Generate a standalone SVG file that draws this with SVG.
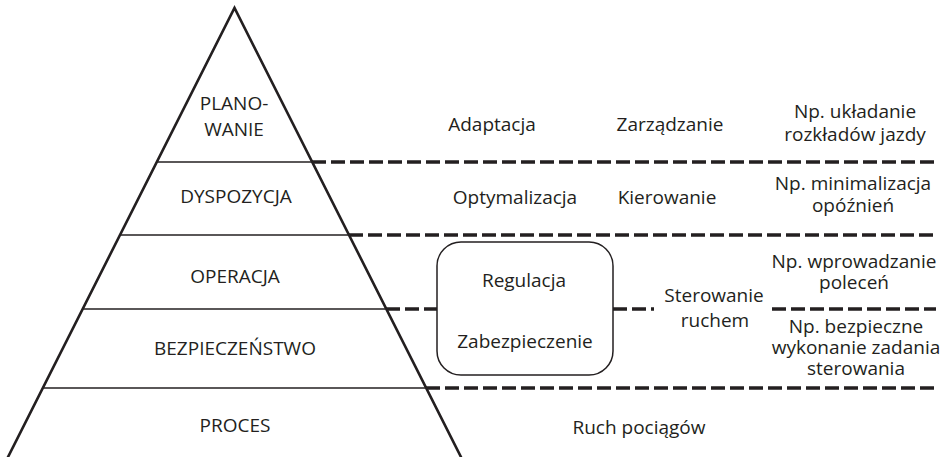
<svg xmlns="http://www.w3.org/2000/svg" width="949" height="457" viewBox="0 0 949 457">
<style>
text{font-family:"Open Sans","Noto Sans","Liberation Sans",sans-serif;font-size:19px;fill:#231f20;text-anchor:middle}
.edge{stroke:#231f20;stroke-width:2.6;fill:none}
.tier{stroke:#231f20;stroke-width:1.5;fill:none}
.dash{stroke:#231f20;stroke-width:3.5;stroke-dasharray:14 5;fill:none}
.box{stroke:#231f20;stroke-width:1.5;fill:#fff}
</style>
<rect width="949" height="457" fill="#fff"/>
<g id="pyramid">
<line class="tier" x1="157.4" y1="162" x2="311.6" y2="162"/>
<line class="tier" x1="120.6" y1="235" x2="348.4" y2="235"/>
<line class="tier" x1="83.3" y1="309" x2="385.7" y2="309"/>
<line class="tier" x1="43.5" y1="388" x2="425.5" y2="388"/>
<polyline class="edge" points="6.5,460 234.5,8 462.5,460"/>
</g>
<g id="connectors">
<line class="dash" x1="312" y1="162" x2="936" y2="162"/>
<line class="dash" x1="349" y1="235" x2="936" y2="235"/>
<line class="dash" x1="386" y1="309" x2="437" y2="309"/>
<line class="dash" x1="613" y1="309" x2="654" y2="309"/>
<line class="dash" x1="772" y1="309" x2="936" y2="309"/>
<line class="dash" x1="426" y1="388" x2="936" y2="388"/>
</g>
<g id="level-planowanie"><text x="234" y="110">PLANO-</text><text x="234" y="136">WANIE</text></g>
<g id="level-dyspozycja"><text x="236" y="203">DYSPOZYCJA</text></g>
<g id="level-operacja"><text x="235" y="283">OPERACJA</text></g>
<g id="level-bezpieczenstwo"><text x="235" y="355">BEZPIECZEŃSTWO</text></g>
<g id="level-proces"><text x="235" y="432">PROCES</text></g>
<g id="adaptacja"><text x="492" y="131">Adaptacja</text></g>
<g id="zarzadzanie"><text x="670" y="131">Zarządzanie</text></g>
<g id="ex-planowanie"><text x="855" y="118">Np. układanie</text><text x="855" y="141">rozkładów jazdy</text></g>
<g id="optymalizacja"><text x="515" y="204">Optymalizacja</text></g>
<g id="kierowanie"><text x="667" y="204">Kierowanie</text></g>
<g id="ex-dyspozycja"><text x="853" y="190">Np. minimalizacja</text><text x="853" y="212">opóźnień</text></g>
<g id="regulacja-box">
<rect class="box" x="437" y="242" width="176" height="133" rx="24"/>
<text x="524" y="287">Regulacja</text>
<text x="525" y="348">Zabezpieczenie</text>
</g>
<g id="sterowanie"><text x="714" y="302">Sterowanie</text><text x="715" y="327">ruchem</text></g>
<g id="ex-operacja"><text x="854" y="268">Np. wprowadzanie</text><text x="854" y="289">poleceń</text></g>
<g id="ex-bezpieczenstwo"><text x="856" y="333">Np. bezpieczne</text><text x="856" y="354">wykonanie zadania</text><text x="856" y="375">sterowania</text></g>
<g id="ruch"><text x="639" y="434">Ruch pociągów</text></g>
</svg>
